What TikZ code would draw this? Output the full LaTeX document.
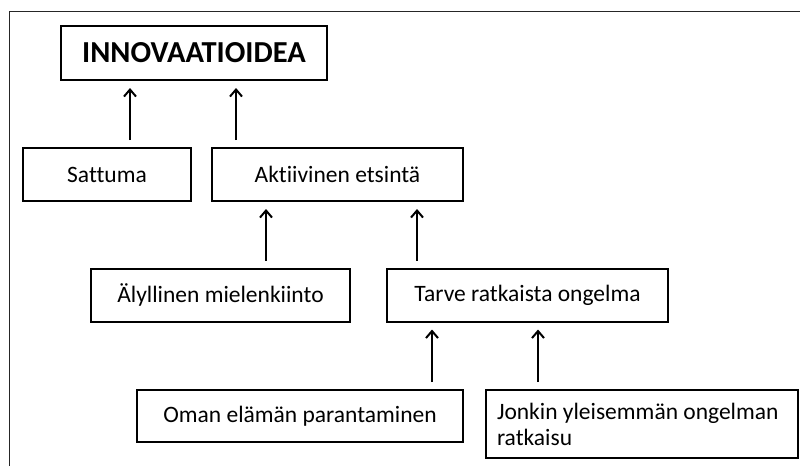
\documentclass[tikz,border=0pt]{standalone}
\usepackage{fontspec}
\setmainfont{Carlito}[Ligatures=NoCommon]
\usetikzlibrary{positioning,arrows.meta}

\begin{document}
\begin{tikzpicture}
[x=1pt,y=-1pt,
 every node/.style={draw=black,line width=2pt,inner sep=0pt,outer sep=0pt,font=\fontsize{23.5}{26}\selectfont},
 box/.style={rectangle,minimum height=53pt},
 title/.style={rectangle,minimum width=266pt,minimum height=54pt,font=\fontsize{30.5}{34}\selectfont\bfseries},
 twoline/.style={rectangle,text width=290pt,align=flush left,inner xsep=11pt,minimum height=68pt},
 arr/.style={-{Straight Barb[length=7pt,width=12pt]},line width=2pt,shorten <=8pt,shorten >=8pt}]
\useasboundingbox (0,0) rectangle (800,466);
\draw[line width=1pt,black!85] (9,466) -- (9,11) -- (800,11);

\node[title] (idea) at (194,53) {INNOVAATIOIDEA};
\node[box,minimum width=168pt] (sattuma) [on grid,below left=121.5pt and 87pt of idea]     {Sattuma};
\node[box,minimum width=251pt] (etsinta) [on grid,right=230.5pt of sattuma]                {Aktiivinen etsintä};
\node[box,minimum width=259pt] (aly)     [on grid,below right=120.5pt and 113.5pt of sattuma] {Älyllinen mielenkiinto};
\node[box,minimum width=281pt] (tarve)   [on grid,right=307pt of aly]                      {Tarve ratkaista ongelma};
\node[box,minimum width=326pt,minimum height=52pt] (oman) [on grid,below right=121pt and 79.5pt of aly] {Oman elämän parantaminen};
\node[twoline] (jonkin) [on grid,below right=8pt and 342pt of oman] {Jonkin yleisemmän ongelman\\ratkaisu};

\draw[arr] ([xshift=23pt]sattuma.north)      -- ([xshift=23pt]sattuma.north |- idea.south);
\draw[arr] ([xshift=24pt]etsinta.north west) -- ([xshift=24pt]etsinta.north west |- idea.south);
\draw[arr] ([xshift=45.5pt]aly.north)        -- ([xshift=45.5pt]aly.north |- etsinta.south);
\draw[arr] ([xshift=30pt]tarve.north west)   -- ([xshift=30pt]tarve.north west |- etsinta.south);
\draw[arr] ([xshift=-31pt]oman.north east)   -- ([xshift=-31pt]oman.north east |- tarve.south);
\draw[arr] ([xshift=52pt]jonkin.north west)  -- ([xshift=52pt]jonkin.north west |- tarve.south);
\end{tikzpicture}
\end{document}
